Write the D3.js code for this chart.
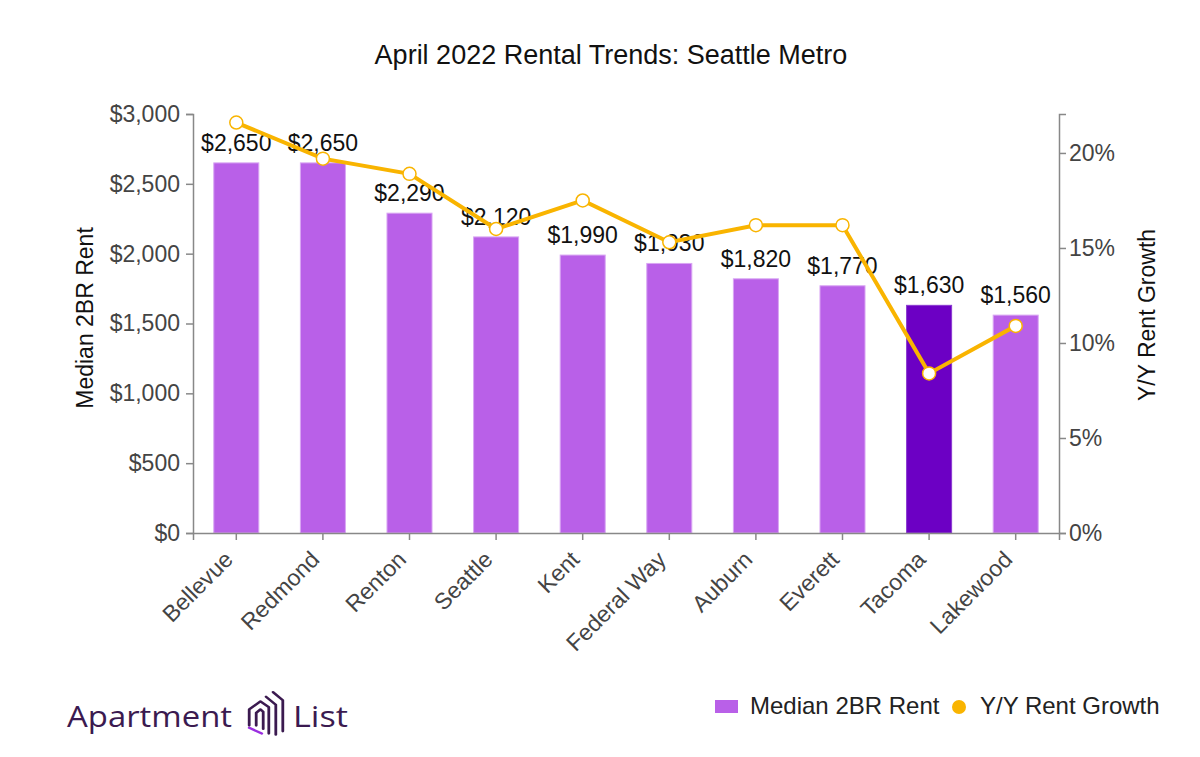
<!DOCTYPE html>
<html>
<head>
<meta charset="utf-8">
<script src="https://cdn.jsdelivr.net/npm/d3@7"></script>
<style>
  body { margin: 0; background: #fff; }
  svg { font-family: 'Liberation Sans', Arial, Helvetica, sans-serif; }
  .axis text { fill: #444; font-size: 23px; }
  .axis path, .axis line { stroke: #888; stroke-width: 1.5; }
</style>
</head>
<body>
<svg id="chart"></svg>
<script>
const cities = ['Bellevue', 'Redmond', 'Renton', 'Seattle', 'Kent', 'Federal Way', 'Auburn', 'Everett', 'Tacoma', 'Lakewood'];
const rents = [2650, 2650, 2290, 2120, 1990, 1930, 1820, 1770, 1630, 1560];
const growth = [0.216, 0.197, 0.189, 0.160, 0.175, 0.153, 0.162, 0.162, 0.084, 0.109];
const rentTicks = [0, 500, 1000, 1500, 2000, 2500, 3000];
const growthTicks = [0, 0.05, 0.10, 0.15, 0.20];
const highlight = 'Tacoma';

const width = 1200;
const height = 757;
const margin = { top: 114, right: 141, bottom: 224, left: 193 };
const innerWidth = width - margin.left - margin.right;
const innerHeight = height - margin.top - margin.bottom;

const svg = d3.select('#chart').attr('width', width).attr('height', height);

// Title
svg.append('text')
  .attr('x', 611)
  .attr('y', 64)
  .attr('text-anchor', 'middle')
  .attr('font-size', 27)
  .attr('fill', '#111')
  .text('April 2022 Rental Trends: Seattle Metro');

const g = svg.append('g')
  .attr('transform', `translate(${margin.left}, ${margin.top})`);

const x = d3.scaleBand()
  .domain(cities)
  .range([0, innerWidth])
  .paddingInner(0.48)
  .paddingOuter(0.24);
const yRent = d3.scaleLinear()
  .domain([0, 3000])
  .range([innerHeight, 0]);
const yGrowth = d3.scaleLinear()
  .domain([0, 0.2205])
  .range([innerHeight, 0]);

// Bars
g.selectAll('.bar')
  .data(cities)
  .enter().append('rect')
    .attr('class', 'bar')
    .attr('x', d => x(d))
    .attr('y', (d, i) => yRent(rents[i]))
    .attr('width', x.bandwidth())
    .attr('height', (d, i) => innerHeight - yRent(rents[i]))
    .attr('fill', d => d === highlight ? '#6c00c4' : '#b960e8')
    .attr('stroke', d => d === highlight ? '#8a3ad0' : '#d9a6f3')
    .attr('stroke-width', 1);

// Axes
const xAxis = d3.axisBottom(x).tickSize(7).tickSizeOuter(7);
g.append('g')
  .attr('class', 'axis x')
  .attr('transform', `translate(0, ${innerHeight})`)
  .call(xAxis)
  .selectAll('text')
    .attr('text-anchor', 'end')
    .attr('x', 0)
    .attr('y', 0)
    .attr('dy', 0)
    .attr('transform', 'translate(-2, 28) rotate(-45)');

g.append('g')
  .attr('class', 'axis y-left')
  .call(d3.axisLeft(yRent)
    .tickValues(rentTicks)
    .tickSize(7)
    .tickSizeOuter(7)
    .tickPadding(6)
    .tickFormat(v => '$' + d3.format(',')(v)));

g.append('g')
  .attr('class', 'axis y-right')
  .attr('transform', `translate(${innerWidth}, 0)`)
  .call(d3.axisRight(yGrowth)
    .tickValues(growthTicks)
    .tickSize(7)
    .tickSizeOuter(7)
    .tickFormat(d3.format('.0%')));

// Bar value labels
g.selectAll('.bar-label')
  .data(cities)
  .enter().append('text')
    .attr('class', 'bar-label')
    .attr('x', d => x(d) + x.bandwidth() / 2)
    .attr('y', (d, i) => yRent(rents[i]) - 12)
    .attr('text-anchor', 'middle')
    .attr('font-size', 23)
    .attr('fill', '#111')
    .text((d, i) => '$' + d3.format(',')(rents[i]));

// Growth line
const line = d3.line()
  .x(d => x(d) + x.bandwidth() / 2)
  .y((d, i) => yGrowth(growth[i]));

g.append('path')
  .datum(cities)
  .attr('fill', 'none')
  .attr('stroke', '#f9b400')
  .attr('stroke-width', 4)
  .attr('d', line);

g.selectAll('.pt')
  .data(cities)
  .enter().append('circle')
    .attr('class', 'pt')
    .attr('cx', d => x(d) + x.bandwidth() / 2)
    .attr('cy', (d, i) => yGrowth(growth[i]))
    .attr('r', 6.5)
    .attr('fill', '#fff')
    .attr('stroke', '#f9b400')
    .attr('stroke-width', 1.5);

// Axis titles
svg.append('text')
  .attr('transform', 'translate(93, 318) rotate(-90)')
  .attr('text-anchor', 'middle')
  .attr('font-size', 23)
  .attr('fill', '#111')
  .text('Median 2BR Rent');
svg.append('text')
  .attr('transform', 'translate(1155, 315) rotate(-90)')
  .attr('text-anchor', 'middle')
  .attr('font-size', 23)
  .attr('fill', '#111')
  .text('Y/Y Rent Growth');

// Legend
const legend = svg.append('g').attr('transform', 'translate(715, 700)');
legend.append('rect')
  .attr('width', 23).attr('height', 13)
  .attr('fill', '#b960e8');
legend.append('text')
  .attr('x', 35).attr('y', 14)
  .attr('font-size', 24).attr('fill', '#222')
  .text('Median 2BR Rent');
legend.append('circle')
  .attr('cx', 244).attr('cy', 7).attr('r', 7)
  .attr('fill', '#f9b400');
legend.append('text')
  .attr('x', 265).attr('y', 14)
  .attr('font-size', 24).attr('fill', '#222')
  .text('Y/Y Rent Growth');

// Logo
const logo = svg.append('g').attr('transform', 'translate(67, 727)');
logo.append('text')
  .attr('x', 0).attr('y', 0)
  .attr('font-family', "'Open Sans', Lato, sans-serif")
  .attr('font-size', 29)
  .attr('textLength', 165)
  .attr('lengthAdjust', 'spacingAndGlyphs')
  .attr('fill', '#3b1a50')
  .text('Apartment');
logo.append('text')
  .attr('x', 226).attr('y', 0)
  .attr('font-family', "'Open Sans', Lato, sans-serif")
  .attr('font-size', 29)
  .attr('textLength', 55)
  .attr('lengthAdjust', 'spacingAndGlyphs')
  .attr('fill', '#3b1a50')
  .text('List');
const icon = logo.append('g').attr('transform', 'translate(178, -36) scale(1.4, 1.15)')
  .attr('fill', 'none').attr('stroke-width', 2).attr('stroke-linecap', 'round').attr('stroke-linejoin', 'round');
icon.append('path').attr('stroke', '#3b1a50')
  .attr('d', 'M3 30 L3 16 L11 9 L17 14 L17 37');
icon.append('path').attr('stroke', '#3b1a50')
  .attr('d', 'M8 30 L8 19 L11 16 L13 18 L13 33');
icon.append('path').attr('stroke', '#3b1a50')
  .attr('d', 'M15 5 L22 12 L22 38');
icon.append('path').attr('stroke', '#3b1a50')
  .attr('d', 'M20 1 L27 8 L27 35');
icon.append('path').attr('stroke', '#9b2ee0')
  .attr('d', 'M3 32 L12 37');
</script>
</body>
</html>
